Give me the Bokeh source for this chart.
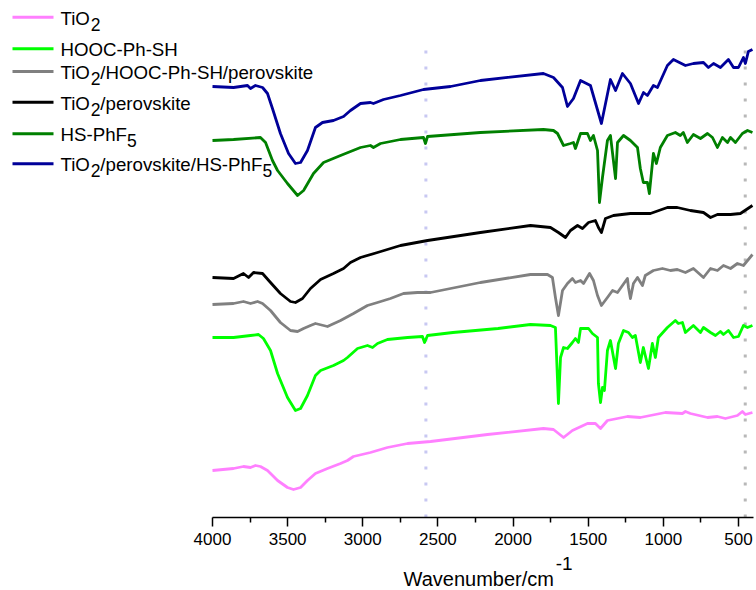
from bokeh.plotting import figure
from bokeh.models import Range1d, Label, Arrow, FixedTicker, ColumnDataSource
from bokeh.embed import file_html
from bokeh.resources import INLINE

# ---- FTIR spectra (wavenumber in cm^-1, stacked transmittance in arbitrary units) ----
tio2_wn = [4000, 3860, 3794, 3747, 3714, 3681, 3634, 3567, 3501, 3461, 3414, 3368, 3315, 3235,
           3148, 3102, 3062, 2949, 2836, 2702, 2549, 2170, 1798, 1731, 1664, 1605, 1505, 1452,
           1418, 1372, 1239, 1153, 987, 873, 853, 820, 706, 640, 587, 507, 474, 454, 407]
tio2_t = [47, 49, 51, 50, 52, 51, 47, 37, 30, 28, 30, 37, 44, 49,
          54, 57, 61, 65, 70, 74, 76, 83, 89, 88, 80, 87, 94, 94,
          89, 97, 101, 100, 105, 104, 106, 104, 100, 101, 99, 102, 106, 103, 105]

hooc_wn = [4000, 3860, 3747, 3694, 3661, 3614, 3567, 3501, 3448, 3414, 3368, 3315, 3281, 3195,
           3128, 3102, 3035, 2969, 2935, 2902, 2836, 2702, 2603, 2589, 2569, 2400, 2100, 1884,
           1751, 1718, 1698, 1684, 1664, 1638, 1605, 1585, 1565, 1551, 1498, 1472, 1438, 1432,
           1418, 1405, 1392, 1372, 1352, 1318, 1299, 1265, 1232, 1206, 1186, 1153, 1133, 1099,
           1073, 1053, 1033, 973, 920, 900, 873, 853, 800, 753, 733, 686, 653, 620, 600, 567,
           533, 500, 467, 440, 407]
hooc_t = [180, 180, 182, 183, 179, 167, 144, 120, 107, 109, 122, 142, 147, 152,
          157, 160, 169, 172, 170, 174, 178, 180, 181, 175, 182, 185, 189, 193,
          192, 190, 114, 160, 170, 169, 175, 179, 175, 189, 189, 184, 180, 134,
          115, 130, 127, 167, 177, 149, 174, 187, 185, 180, 182, 155, 170, 149,
          174, 160, 180, 190, 197, 194, 195, 185, 192, 185, 190, 185, 182, 186, 183, 187,
          180, 181, 192, 190, 192]

mix_wn = [4000, 3860, 3794, 3747, 3700, 3667, 3614, 3548, 3481, 3434, 3394, 3348, 3315, 3235,
          3148, 3062, 2969, 2902, 2816, 2729, 2636, 2583, 2549, 2217, 1884, 1771, 1738, 1718,
          1698, 1671, 1638, 1605, 1585, 1551, 1531, 1491, 1465, 1438, 1412, 1372, 1338, 1305,
          1272, 1239, 1232, 1219, 1199, 1172, 1139, 1120, 1066, 1006, 953, 907, 853, 800, 733,
          686, 640, 600, 553, 507, 467, 407]
mix_t = [213, 214, 216, 214, 216, 214, 207, 195, 187, 186, 189, 192, 194, 191,
         197, 204, 212, 215, 219, 224, 225, 225, 225, 235, 243, 243, 240, 220,
         202, 227, 234, 239, 235, 237, 234, 244, 237, 222, 212, 220, 227, 225,
         232, 239, 230, 219, 234, 240, 232, 242, 247, 249, 247, 248, 245, 249, 240,
         249, 247, 252, 249, 254, 252, 263]

pero_wn = [4000, 3860, 3794, 3760, 3727, 3667, 3614, 3548, 3481, 3448, 3401, 3348, 3281, 3195,
           3128, 3082, 3015, 2902, 2749, 2569, 2217, 1884, 1751, 1698, 1651, 1618, 1571, 1538,
           1498, 1452, 1432, 1412, 1385, 1332, 1219, 1086, 973, 907, 820, 733, 686, 640, 553,
           487, 407]
pero_t = [240, 239, 244, 240, 245, 244, 235, 224, 216, 215, 219, 229, 238, 244,
          249, 255, 260, 265, 272, 277, 285, 292, 290, 285, 280, 287, 292, 289,
          295, 297, 290, 285, 299, 302, 304, 304, 310, 310, 307, 305, 300, 303, 303,
          304, 312]

phf5_wn = [4000, 3860, 3681, 3647, 3601, 3567, 3501, 3434, 3394, 3328, 3261, 3148, 3015, 2949,
           2929, 2882, 2749, 2596, 2583, 2569, 2217, 1798, 1731, 1704, 1664, 1618, 1598, 1585,
           1551, 1505, 1485, 1465, 1438, 1425, 1405, 1372, 1352, 1318, 1305, 1265, 1219, 1172,
           1153, 1133, 1106, 1093, 1066, 1046, 1020, 973, 920, 887, 867, 840, 800, 753, 706,
           673, 640, 607, 573, 553, 520, 474, 440, 407]
phf5_t = [377, 378, 380, 375, 357, 347, 334, 322, 327, 344, 355, 362, 370, 372,
          370, 374, 378, 380, 374, 381, 385, 388, 387, 384, 372, 374, 375, 369,
          384, 384, 377, 382, 367, 315, 340, 377, 382, 339, 375, 382, 377, 370,
          349, 335, 335, 324, 364, 354, 370, 382, 385, 382, 385, 375, 383, 379, 384,
          380, 370, 380, 375, 380, 375, 384, 387, 385]

pero_phf5_wn = [4000, 3860, 3767, 3747, 3714, 3667, 3634, 3601, 3548, 3494, 3448, 3414, 3368,
                3315, 3268, 3195, 3128, 3082, 3015, 2949, 2929, 2862, 2749, 2596, 2416, 2217,
                1798, 1731, 1671, 1638, 1598, 1551, 1485, 1412, 1352, 1318, 1272, 1219, 1165,
                1132, 1106, 1066, 1039, 973, 933, 853, 800, 733, 700, 666, 620, 567, 533, 500,
                467, 454, 434, 407]
pero_phf5_t = [431, 430, 432, 429, 432, 430, 424, 409, 384, 364, 354, 355, 367,
               390, 395, 397, 401, 407, 414, 415, 414, 418, 422, 428, 431, 437,
               444, 440, 430, 411, 419, 437, 432, 394, 438, 427, 444, 434, 414,
               425, 422, 432, 430, 452, 458, 452, 454, 455, 450, 454, 450, 458, 450, 450,
               460, 454, 466, 468]

# reference wavenumbers marked by dotted verticals
marker_wn = [2580, 455]
marker_top = [467, 467]
marker_colors = ["#c8c8f2", "#b8b8b8"]

major_ticks = [4000, 3500, 3000, 2500, 2000, 1500, 1000, 500]
minor_ticks = [3750, 3250, 2750, 2250, 1750, 1250, 750]
WN_MAX, WN_MIN = 4000, 400

# series: legend label ("_" puts the next character in subscript), colour, x, y
series = [
    ("TiO_2", "#ff80ff", tio2_wn, tio2_t),
    ("HOOC-Ph-SH", "#00ff00", hooc_wn, hooc_t),
    ("TiO_2/HOOC-Ph-SH/perovskite", "#808080", mix_wn, mix_t),
    ("TiO_2/perovskite", "#000000", pero_wn, pero_t),
    ("HS-PhF_5", "#008000", phf5_wn, phf5_t),
    ("TiO_2/perovskite/HS-PhF_5", "#000099", pero_phf5_wn, pero_phf5_t),
]

# ---- layout: the frame covers the whole canvas; the axis is pinned at y = 0 ----
W, H = 756, 590
AX_LEFT, AX_RIGHT, AX_Y = 212, 753, 517       # axis span and height in canvas pixels
FONT = "Liberation Sans"

px_per_wn = (AX_RIGHT - AX_LEFT) / (WN_MAX - WN_MIN)
x_start = WN_MAX + AX_LEFT / px_per_wn
x_end = WN_MIN - (W - AX_RIGHT) / px_per_wn

p = figure(width=W, height=H, output_backend="svg", toolbar_location=None,
           x_range=Range1d(x_start, x_end), y_range=Range1d(AX_Y - H, AX_Y),
           min_border=0, y_axis_location=None)
p.outline_line_color = None
p.grid.visible = False
p.background_fill_color = "white"
p.border_fill_color = "white"

ax = p.xaxis[0]
ax.fixed_location = 0
ax.bounds = (WN_MIN, WN_MAX)
ax.ticker = FixedTicker(ticks=major_ticks, minor_ticks=minor_ticks)
ax.axis_line_width = 1.5
ax.major_tick_line_width = 1.5
ax.minor_tick_line_width = 1.5
ax.major_tick_in = 0
ax.major_tick_out = 9
ax.minor_tick_in = 0
ax.minor_tick_out = 5
ax.major_label_standoff = 6
ax.major_label_text_font = FONT
ax.major_label_text_font_size = "17px"
ax.major_label_text_color = "black"

# dotted reference lines
msrc = ColumnDataSource(dict(x=marker_wn, top=marker_top, c=marker_colors))
p.segment(x0="x", y0=0, x1="x", y1="top", source=msrc, line_color="c",
          line_width=3, line_dash="3 13")

for label, color, xs, ys in series:
    p.line(xs, ys, line_color=color, line_width=2.8, line_join="round")

# ---- text helpers (Arial / Liberation Sans advance widths, per 1000 em) ----
ADV = {" ": 278, "-": 333, "/": 278, "2": 556, "5": 556, "1": 556, "T": 611, "i": 222,
       "O": 778, "H": 722, "C": 722, "P": 667, "h": 556, "S": 667, "F": 611, "p": 556,
       "e": 556, "r": 333, "o": 556, "v": 500, "s": 500, "k": 500, "t": 278, "W": 944,
       "a": 556, "n": 556, "u": 556, "m": 833, "b": 556, "c": 500}
BASELINE_FIX = 0.3   # lift applied to the alphabetic baseline, in em


def text_width(s, size):
    return sum(ADV.get(ch, 556) for ch in s) * size / 1000.0


def put_text(txt, px, py, size):
    p.add_layout(Label(x=px, y=H - py + BASELINE_FIX * size, x_units="screen",
                       y_units="screen", text=txt, text_font=FONT,
                       text_font_size=f"{size}px", text_color="black",
                       text_align="left", text_baseline="alphabetic"))


def split_sub(label):
    parts, buf, i = [], "", 0
    while i < len(label):
        if label[i] == "_":
            if buf:
                parts.append((buf, False))
                buf = ""
            parts.append((label[i + 1], True))
            i += 2
        else:
            buf += label[i]
            i += 1
    if buf:
        parts.append((buf, False))
    return parts


# ---- legend ----
row_y = [16.7, 48.3, 71, 101.7, 133.3, 163.3]
LINE_X0, LINE_X1, TEXT_X = 12, 53, 60
FS, FS_SUB, SUB_DROP = 18.7, 17.5, 5.5
for (label, color, _, _), ly in zip(series, row_y):
    p.add_layout(Arrow(end=None, x_start=LINE_X0, y_start=H - ly, x_end=LINE_X1,
                       y_end=H - ly, start_units="screen", end_units="screen",
                       line_color=color, line_width=3))
    x = TEXT_X
    base = ly + 6.7
    for txt, sub in split_sub(label):
        size = FS_SUB if sub else FS
        put_text(txt, x, base + (SUB_DROP if sub else 0), size)
        x += text_width(txt, size)

# ---- axis title with superscript ----
title_main = "Wavenumber/cm"
title_sup = "-1"
TX, TBASE = 403, 584
put_text(title_main, TX, TBASE, 20)
put_text(title_sup, TX + text_width(title_main, 20) + 1, TBASE - 15, 19)

open("out.html", "w").write(file_html(p, INLINE))
